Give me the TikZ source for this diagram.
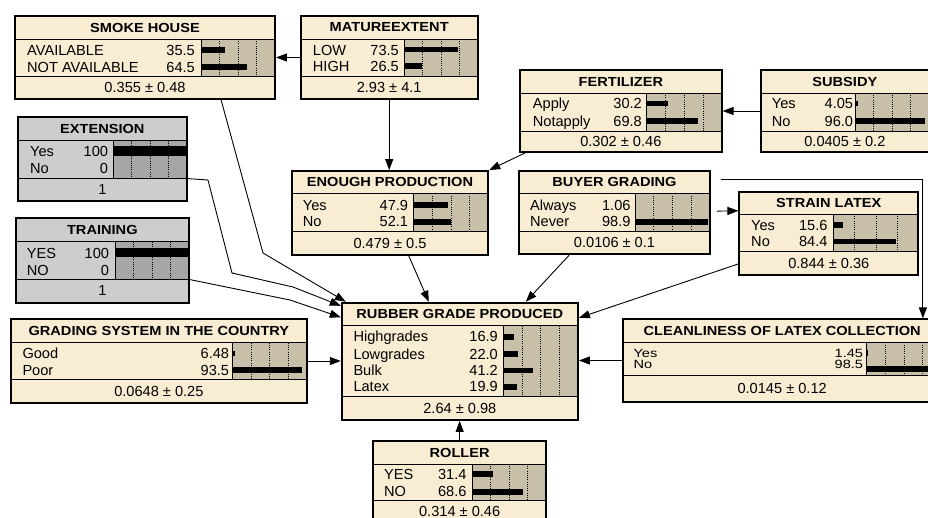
\documentclass[tikz,border=0pt]{standalone}
\usepackage{fontspec}
\usepackage{graphicx}
\setmainfont{Liberation Sans}
\usetikzlibrary{arrows.meta,fit,calc}
\definecolor{cream}{HTML}{F8EDD2}
\definecolor{tanbar}{HTML}{C8BFA9}
\definecolor{lgrey}{HTML}{CDCDCD}
\definecolor{dgrey}{HTML}{A6A6A6}
\tikzset{
  nodeframe/.style={draw, line width=1.8pt, inner sep=0pt},
  sepline/.style={line width=0.9pt},
  tickline/.style={line width=0.6pt, dash pattern=on 1pt off 1.2pt},
  arr/.style={line width=0.9pt, -{Triangle[length=11pt,width=8pt]}},
  lbl/.style={anchor=base west, inner sep=0pt},
  num/.style={anchor=base east, inner sep=0pt},
  ttl/.style={inner sep=0pt},
  ftr/.style={inner sep=0pt},
}
\newcommand\bnbg{cream}
\newcommand\bnbarbg{tanbar}
% #1 name, #2 x1, #3 y1, #4 x2, #5 y2, #6 title sep, #7 body sep, #8 bar x, #9 title
\newcommand\bnframe[9]{%
  \fill[\bnbg] (#2,#3) rectangle (#4,#5);
  \fill[\bnbarbg] (#8,#6) rectangle (#4,#7);
  \foreach \k in {1,2,3} \draw[tickline] ({#8+\k*(#4-#8)/4},#6) -- ({#8+\k*(#4-#8)/4},#7);
  \draw[sepline] (#2,#6) -- (#4,#6) (#2,#7) -- (#4,#7) (#8,#6) -- (#8,#7);
  \node[nodeframe, fit={(#2,#3) (#4,#5)}] (#1) {};
  \node[ttl] at ({(#2+#4)/2},{(#3+#6)/2}) {\scalebox{1}[0.9]{\bfseries #9}};
  \def\bnfx{(#2+#4)/2}\def\bnfy{(#7+#5)/2}\def\bnbx{#8}%
}
\newcommand\bnfoot[1]{\node[ftr] at ({\bnfx},{\bnfy}) {#1};}
% #1 label x, #2 centre y, #3 label, #4 number right x, #5 number
\newcommand\bnrow[5]{\node[lbl] at (#1,{#2+5.2}) {#3}; \node[num] at (#4,{#2+5.2}) {#5};}
\newcommand\bnrowsq[5]{\node[lbl] at (#1,{#2+4.3}) {\scalebox{1}[0.82]{#3}}; \node[num] at (#4,{#2+4.3}) {\scalebox{1}[0.82]{#5}};}
% #1 centre y, #2 end x
\newcommand\bnbar[2]{\fill[black] (\bnbx,{#1-2.8}) rectangle (#2,{#1+2.8});}
\begin{document}
\begin{tikzpicture}[x=1pt,y=-1pt,font=\fontsize{14.6}{17}\selectfont]
\useasboundingbox (0,0) rectangle (928,517);
\fill[white] (0,0) rectangle (928,517);
\clip (0,0) rectangle (928,517);

% SMOKE HOUSE
\bnframe{smoke}{15}{16}{275}{99}{39}{76}{201}{SMOKE HOUSE}
\bnbar{50}{225}\bnbar{67}{247}
\bnrow{27}{50}{AVAILABLE}{195}{35.5}
\bnrow{27}{67}{NOT AVAILABLE}{195}{64.5}
\bnfoot{0.355 ± 0.48}

% MATUREEXTENT
\bnframe{mature}{300.7}{16}{477.7}{99}{39}{76}{404}{MATUREEXTENT}
\bnbar{49.5}{458}\bnbar{66}{422}
\bnrow{312.7}{50}{LOW}{399}{73.5}
\bnrow{312.7}{66.7}{HIGH}{399}{26.5}
\bnfoot{2.93 ± 4.1}

% FERTILIZER
\bnframe{fert}{520}{70}{721.7}{152}{93}{131}{646.7}{FERTILIZER}
\bnbar{103.5}{668}\bnbar{121}{698}
\bnrow{532.7}{103}{Apply}{642}{30.2}
\bnrow{532.7}{121.7}{Notapply}{642}{69.8}
\bnfoot{0.302 ± 0.46}

% SUBSIDY
\bnframe{subsidy}{760.7}{70}{929}{152}{93}{131}{855}{SUBSIDY}
\bnbar{103.5}{857.8}\bnbar{121}{925}
\bnrow{771.7}{103}{Yes}{853.3}{4.05}
\bnrow{771.7}{121.7}{No}{853.3}{96.0}
\bnfoot{0.0405 ± 0.2}

\begin{scope}
\renewcommand\bnbg{lgrey}\renewcommand\bnbarbg{dgrey}
% EXTENSION
\bnframe{ext}{18}{116.7}{186.7}{200.7}{140.7}{178}{113}{EXTENSION}
\fill[black] (113,146) rectangle (186.7,155.5);
\bnrow{30}{151.7}{Yes}{108.3}{100}
\bnrow{30}{168.3}{No}{108.3}{0}
\bnfoot{1}
% TRAINING
\bnframe{train}{15.7}{218}{189}{302.7}{241.7}{279}{115}{TRAINING}
\fill[black] (115,248) rectangle (189,257);
\bnrow{26.7}{253.3}{YES}{109.3}{100}
\bnrow{26.7}{270}{NO}{109.3}{0}
\bnfoot{1}
\end{scope}

% ENOUGH PRODUCTION
\bnframe{enough}{291.7}{171}{488.3}{255}{193.3}{231}{413.3}{ENOUGH PRODUCTION}
\bnbar{204.7}{447.7}\bnbar{222}{451}
\bnrow{302.7}{205}{Yes}{408.3}{47.9}
\bnrow{302.7}{221.7}{No}{408.3}{52.1}
\bnfoot{0.479 ± 0.5}

% BUYER GRADING
\bnframe{buyer}{519}{171}{710}{254.3}{193.3}{231}{635}{BUYER GRADING}
\bnbar{204.7}{636}\bnbar{222}{708}
\bnrow{530}{205}{Always}{630.7}{1.06}
\bnrow{530}{221.7}{Never}{630.7}{98.9}
\bnfoot{0.0106 ± 0.1}

% STRAIN LATEX
\bnframe{strain}{739.3}{191.7}{918.3}{275}{214}{251.7}{833.3}{STRAIN LATEX}
\bnbar{225}{842.7}\bnbar{241.5}{895.7}
\bnrow{751}{225}{Yes}{827.7}{15.6}
\bnrow{751}{241}{No}{827.7}{84.4}
\bnfoot{0.844 ± 0.36}

% RUBBER GRADE PRODUCED
\bnframe{rubber}{341.7}{302.7}{578}{420}{325.7}{396.7}{503.3}{RUBBER GRADE PRODUCED}
\bnbar{336.7}{513.7}\bnbar{354}{518}\bnbar{370.5}{532.7}\bnbar{386.7}{516.7}
\bnrow{353.3}{336.7}{Highgrades}{498}{16.9}
\bnrow{353.3}{354}{Lowgrades}{498}{22.0}
\bnrow{353.3}{370.5}{Bulk}{498}{41.2}
\bnrow{353.3}{386.7}{Latex}{498}{19.9}
\bnfoot{2.64 ± 0.98}

% GRADING SYSTEM IN THE COUNTRY
\bnframe{grading}{11}{319.3}{306.7}{402.7}{342.7}{379.3}{232.3}{GRADING SYSTEM IN THE COUNTRY}
\bnbar{353.3}{235}\bnbar{370}{301.7}
\bnrow{22.3}{353.3}{Good}{229.3}{6.48}
\bnrow{22.3}{370}{Poor}{229.3}{93.5}
\bnfoot{0.0648 ± 0.25}

% CLEANLINESS OF LATEX COLLECTION
\bnframe{clean}{623.3}{319.3}{941}{401.7}{342.3}{375}{866.7}{CLEANLINESS OF LATEX COLLECTION}
\bnbar{353}{867.8}\bnbar{369}{940}
\bnrowsq{633.3}{353.5}{Yes}{863.3}{1.45}
\bnrowsq{633.3}{364}{No}{863.3}{98.5}
\bnfoot{0.0145 ± 0.12}

% ROLLER
\bnframe{roller}{373.3}{441}{546}{523}{464}{500.7}{472.3}{ROLLER}
\bnbar{474}{492.7}\bnbar{491.7}{522.7}
\bnrow{384}{474}{YES}{466.7}{31.4}
\bnrow{384}{491.7}{NO}{466.7}{68.6}
\bnfoot{0.314 ± 0.46}

% connectors
\draw[arr] (mature.west) -- (smoke.east);
\draw[arr] (mature.south) -- (mature.south |- enough.north);
\draw[arr] (subsidy.west) -- (fert.east);
\draw[arr] ($(fert.south west)+(6,0)$) -- (enough.north east);
\draw[arr] ($(smoke.south west)+(207,0)$) -- (263,253) -- ($(rubber.north west)+(5,0)$);
\draw[arr] ($(ext.south east)+(0,-23)$) -- (208,180) -- (232,273) -- (293,287) -- ($(rubber.north west)+(0,4)$);
\draw[arr] ($(train.south east)+(0,-24)$) -- (290,300) -- ($(rubber.north west)+(0,15.5)$);
\draw[arr] ($(enough.south west)+(118,0)$) -- ($(rubber.north west)+(88,0)$);
\draw[arr] ($(buyer.south west)+(51,0)$) -- ($(rubber.north west)+(185,0)$);
\draw[arr] ($(buyer.north east)+(6,41)$) -- ($(strain.north west)+(0,20)$);
\draw[arr] ($(strain.south west)+(0,-12)$) -- ($(rubber.north east)+(0,16)$);
\draw[arr] ($(buyer.north east)+(10,9)$) -| ($(clean.north east)+(-19,0)$);
\draw[arr] (grading.east) -- (rubber.west |- grading.east);
\draw[arr] (clean.west) -- (rubber.east |- clean.west);
\draw[arr] (roller.north) -- (roller.north |- rubber.south);
\end{tikzpicture}
\end{document}
